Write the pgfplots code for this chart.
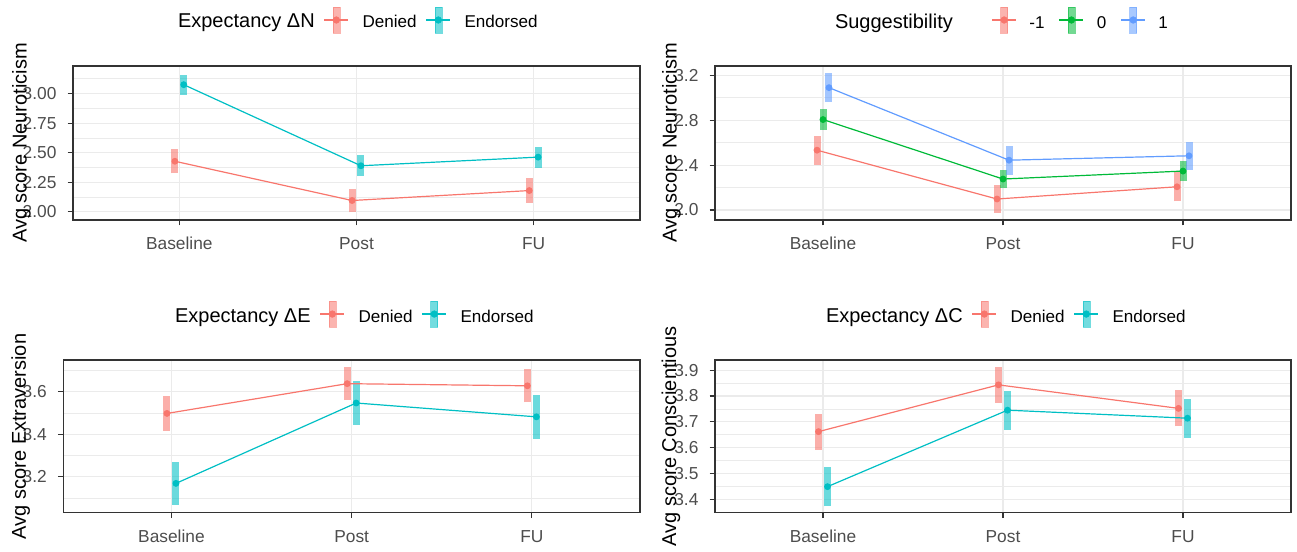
\documentclass[border=0pt]{standalone}
\usepackage{fontspec}
\setmainfont{Liberation Sans}
\usepackage{pgfplots}
\pgfplotsset{compat=1.18}

\definecolor{cRed}{HTML}{F8766D}
\definecolor{cTeal}{HTML}{00BFC4}
\definecolor{cGreen}{HTML}{00BA38}
\definecolor{cBlue}{HTML}{619CFF}
\definecolor{grey20}{HTML}{333333}
\definecolor{grey30}{HTML}{4D4D4D}
\definecolor{grey92}{HTML}{EBEBEB}

% legend key: colour, left pad, right pad
\newcommand{\keyimg}[3]{%
  \addlegendimage{legend image code/.code={%
    \path (0pt,6pt) (#2+18pt+#3,6pt);
    \fill[#1, opacity=0.55] (#2+9pt-2.625pt,-3.75pt) rectangle (#2+9pt+2.625pt,15.75pt);
    \draw[#1, line width=0.9pt] (#2,6pt) -- (#2+18pt,6pt);
    \fill[#1] (#2+9pt,6pt) circle (2.5pt);
  }}}

\pgfplotsset{
  bar/.style={forget plot, line width=5.25pt, opacity=0.58, unbounded coords=jump},
  ser/.style={forget plot, color=#1, line width=0.9pt, mark=*, mark size=2.1pt,
    mark options={solid, fill=#1, draw=#1}},
  panel/.style={
    scale only axis,
    xmin=0.4, xmax=3.6,
    xtick={1,2,3}, xticklabels={Baseline,Post,FU},
    tick pos=left,
    tick align=outside,
    major tick length=4pt,
    minor tick length=0pt,
    tick style={grey20, line width=0.8pt},
    axis line style={grey20, line width=0.9pt},
    grid=both,
    major grid style={grey92, line width=0.8pt},
    minor grid style={grey92, line width=0.45pt},
    /pgf/number format/assume math mode=true,
    ticklabel style={font=\fontsize{13}{15}\selectfont, text=grey30},
    xticklabel style={anchor=base, inner sep=0pt, yshift=-18.2pt},
    yticklabel style={anchor=east, inner sep=0pt, xshift=-8.25pt,
      /pgf/number format/fixed, /pgf/number format/fixed zerofill},
    label style={font=\fontsize{15}{18}\selectfont, text=black},
    legend columns=-1,
    legend style={draw=none, fill=none, inner sep=0pt, outer sep=0pt,
      column sep=0pt, cells={anchor=base west}, nodes={inner sep=0pt},
      font=\fontsize{12.8}{15}\selectfont, anchor=west},
  },
}

\begin{document}
\begin{tikzpicture}
\useasboundingbox (0,0) rectangle (972.75pt,413.25pt);

% ---------------- Panel 1: Neuroticism by Expectancy ΔN
\begin{axis}[panel, at={(54.75pt,248.25pt)}, anchor=south west,
  width=425.25pt, height=115.5pt,
  ymin=1.930, ymax=3.233, ytick={2,2.25,2.5,2.75,3},
  minor ytick={2.125,2.375,2.625,2.875,3.125},
  yticklabel style={/pgf/number format/precision=2},
  ylabel={Avg score Neuroticism},
  ylabel style={at={(axis description cs:-0.0817,0.5)}, anchor=base},
  legend style={at={(axis description cs:0,1)}, xshift=78.75pt, yshift=34.5pt}]
\addplot[bar, cRed] coordinates {(0.975,2.325) (0.975,2.530) (0.975,nan) (1.975,1.995) (1.975,2.195) (1.975,nan) (2.975,2.075) (2.975,2.283)};
\addplot[bar, cTeal] coordinates {(1.025,2.990) (1.025,3.160) (1.025,nan) (2.025,2.302) (2.025,2.476) (2.025,nan) (3.025,2.374) (3.025,2.550)};
\addplot[ser=cRed] coordinates {(0.975,2.427) (1.975,2.095) (2.975,2.179)};
\addplot[ser=cTeal] coordinates {(1.025,3.075) (2.025,2.389) (3.025,2.462)};
\addlegendimage{empty legend}
\addlegendentry{\fontsize{15}{18}\selectfont Expectancy ΔN}
\keyimg{cRed}{7pt}{10.5pt}
\addlegendentry{Denied}
\keyimg{cTeal}{7pt}{10.5pt}
\addlegendentry{Endorsed}
\end{axis}

% ---------------- Panel 2: Neuroticism by Suggestibility
\begin{axis}[panel, at={(536.25pt,248.25pt)}, anchor=south west,
  width=432pt, height=115.5pt,
  ymin=1.911, ymax=3.283, ytick={2.0,2.4,2.8,3.2},
  minor ytick={2.2,2.6,3.0},
  yticklabel style={/pgf/number format/precision=1},
  ylabel={Avg score Neuroticism},
  ylabel style={at={(axis description cs:-0.06655,0.5)}, anchor=base},
  legend style={at={(axis description cs:0,1)}, xshift=90pt, yshift=34.5pt}]
\addplot[bar, cRed] coordinates {(0.9667,2.403) (0.9667,2.663) (0.9667,nan) (1.9667,1.975) (1.9667,2.221) (1.9667,nan) (2.9667,2.077) (2.9667,2.337)};
\addplot[bar, cGreen] coordinates {(1,2.714) (1,2.898) (1,nan) (2,2.192) (2,2.360) (2,nan) (3,2.255) (3,2.439)};
\addplot[bar, cBlue] coordinates {(1.0333,2.961) (1.0333,3.219) (1.0333,nan) (2.0333,2.316) (2.0333,2.572) (2.0333,nan) (3.0333,2.360) (3.0333,2.606)};
\addplot[ser=cRed] coordinates {(0.9667,2.533) (1.9667,2.098) (2.9667,2.207)};
\addplot[ser=cGreen] coordinates {(1,2.806) (2,2.276) (3,2.347)};
\addplot[ser=cBlue] coordinates {(1.0333,3.090) (2.0333,2.444) (3.0333,2.483)};
\addlegendimage{empty legend}
\addlegendentry{\fontsize{15}{18}\selectfont Suggestibility}
\keyimg{cRed}{29.25pt}{9.75pt}
\addlegendentry{-1}
\keyimg{cGreen}{11pt}{9.75pt}
\addlegendentry{0}
\keyimg{cBlue}{11pt}{9.75pt}
\addlegendentry{1}
\end{axis}

% ---------------- Panel 3: Extraversion by Expectancy ΔE
\begin{axis}[panel, at={(47.5pt,28.7pt)}, anchor=south west,
  width=432.5pt, height=114.5pt,
  ymin=3.031, ymax=3.749, ytick={3.2,3.4,3.6},
  minor ytick={3.1,3.3,3.5,3.7},
  yticklabel style={/pgf/number format/precision=1},
  ylabel={Avg score Extraversion},
  ylabel style={at={(axis description cs:-0.06474,0.5)}, anchor=base},
  legend style={at={(axis description cs:0,1)}, xshift=83.8pt, yshift=34.5pt}]
\addplot[bar, cRed] coordinates {(0.975,3.416) (0.975,3.580) (0.975,nan) (1.975,3.560) (1.975,3.716) (1.975,nan) (2.975,3.550) (2.975,3.706)};
\addplot[bar, cTeal] coordinates {(1.025,3.069) (1.025,3.269) (1.025,nan) (2.025,3.445) (2.025,3.649) (2.025,nan) (3.025,3.380) (3.025,3.584)};
\addplot[ser=cRed] coordinates {(0.975,3.498) (1.975,3.638) (2.975,3.628)};
\addplot[ser=cTeal] coordinates {(1.025,3.169) (2.025,3.547) (3.025,3.482)};
\addlegendimage{empty legend}
\addlegendentry{\fontsize{15}{18}\selectfont Expectancy ΔE}
\keyimg{cRed}{7pt}{10.5pt}
\addlegendentry{Denied}
\keyimg{cTeal}{7pt}{10.5pt}
\addlegendentry{Endorsed}
\end{axis}

% ---------------- Panel 4: Conscientiousness by Expectancy ΔC
\begin{axis}[panel, at={(536.25pt,28.7pt)}, anchor=south west,
  width=432pt, height=114.5pt,
  ymin=3.348, ymax=3.939, ytick={3.4,3.5,3.6,3.7,3.8,3.9},
  minor ytick={3.45,3.55,3.65,3.75,3.85},
  yticklabel style={/pgf/number format/precision=1},
  ylabel={Avg score Conscientious},
  ylabel style={at={(axis description cs:-0.06771,0.5)}, anchor=base},
  legend style={at={(axis description cs:0,1)}, xshift=83.25pt, yshift=34.5pt}]
\addplot[bar, cRed] coordinates {(0.975,3.592) (0.975,3.732) (0.975,nan) (1.975,3.773) (1.975,3.913) (1.975,nan) (2.975,3.682) (2.975,3.822)};
\addplot[bar, cTeal] coordinates {(1.025,3.373) (1.025,3.525) (1.025,nan) (2.025,3.669) (2.025,3.821) (2.025,nan) (3.025,3.638) (3.025,3.790)};
\addplot[ser=cRed] coordinates {(0.975,3.662) (1.975,3.843) (2.975,3.752)};
\addplot[ser=cTeal] coordinates {(1.025,3.449) (2.025,3.745) (3.025,3.714)};
\addlegendimage{empty legend}
\addlegendentry{\fontsize{15}{18}\selectfont Expectancy ΔC}
\keyimg{cRed}{7pt}{10.5pt}
\addlegendentry{Denied}
\keyimg{cTeal}{7pt}{10.5pt}
\addlegendentry{Endorsed}
\end{axis}
\end{tikzpicture}
\end{document}
